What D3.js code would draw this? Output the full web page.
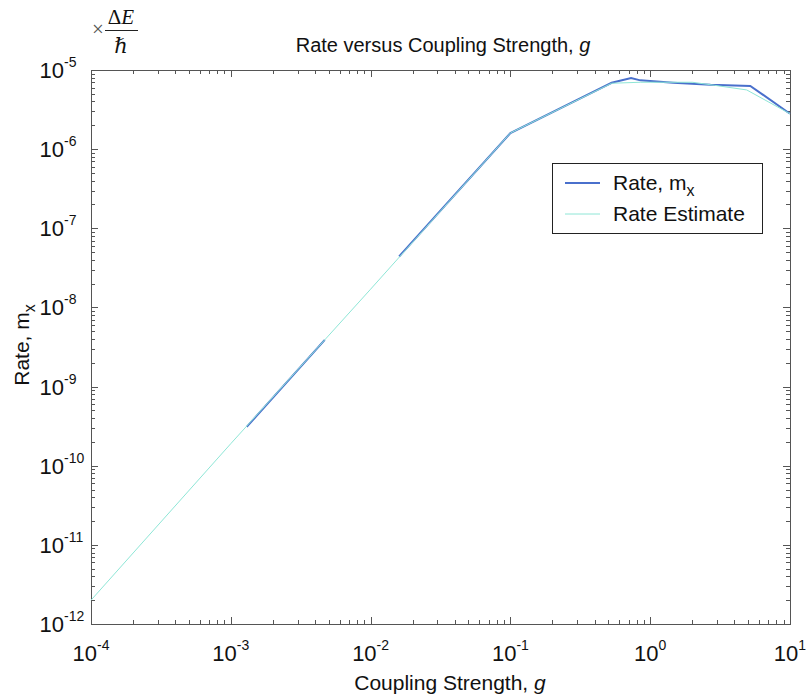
<!DOCTYPE html>
<html>
<head>
<meta charset="utf-8">
<script src="https://cdn.jsdelivr.net/npm/d3@7"></script>
<style>
  body { margin: 0; background: #fff; }
  text { font-family: "Liberation Sans", Arial, sans-serif; fill: #111; }
</style>
</head>
<body>
<div id="chart"></div>
<script>
// values
var rateG    = [1.3e-3, 4.7e-3, null, 0.016, 0.1, 0.53, 0.73, 0.85, 1.46, 2.7, 5.2, 10];
var rateMx   = [3.1e-10, 3.9e-9, null, 4.4e-8, 1.6e-6, 6.9e-6, 7.9e-6, 7.4e-6, 6.9e-6, 6.5e-6, 6.3e-6, 2.8e-6];
var estG     = [1e-4, 1e-3, 1e-2, 0.1, 0.53, 0.85, 2.0, 2.9, 4.9, 10];
var estRate  = [2e-12, 1.9e-10, 1.7e-8, 1.6e-6, 6.8e-6, 7.0e-6, 7.0e-6, 6.4e-6, 5.6e-6, 2.8e-6];
var xExps = [-4, -3, -2, -1, 0, 1];
var yExps = [-12, -11, -10, -9, -8, -7, -6, -5];

var width = 808, height = 700;
var pLeft = 91, pRight = 790, pTop = 70, pBottom = 624;

var svg = d3.select("#chart").append("svg")
  .attr("width", width).attr("height", height);

var x = d3.scaleLog().domain([1e-4, 10]).range([pLeft, pRight]);
var y = d3.scaleLog().domain([1e-12, 1e-5]).range([pBottom, pTop]);

// frame
svg.append("rect")
  .attr("x", pLeft + 0.5).attr("y", pTop + 0.5)
  .attr("width", pRight - pLeft).attr("height", pBottom - pTop)
  .attr("fill", "none").attr("stroke", "#555").attr("stroke-width", 1);

// ticks, inside, on all four sides
var ticks = svg.append("g").attr("stroke", "#555").attr("stroke-width", 1);
function isMajor(v) { return Math.abs(Math.log10(v) - Math.round(Math.log10(v))) < 1e-6; }

x.ticks().forEach(function(v) {
  var len = isMajor(v) ? 7 : 4, px = Math.round(x(v)) + 0.5;
  ticks.append("line").attr("x1", px).attr("x2", px).attr("y1", pBottom).attr("y2", pBottom - len);
  ticks.append("line").attr("x1", px).attr("x2", px).attr("y1", pTop).attr("y2", pTop + len);
});
y.ticks().forEach(function(v) {
  var len = isMajor(v) ? 7 : 4, py = Math.round(y(v)) + 0.5;
  ticks.append("line").attr("x1", pLeft).attr("x2", pLeft + len).attr("y1", py).attr("y2", py);
  ticks.append("line").attr("x1", pRight).attr("x2", pRight - len).attr("y1", py).attr("y2", py);
});

// x tick labels
xExps.forEach(function(e) {
  var t = svg.append("text")
    .attr("x", x(Math.pow(10, e))).attr("y", 661)
    .attr("text-anchor", "middle").attr("font-size", 22);
  t.append("tspan").text("10");
  t.append("tspan").attr("font-size", 14).attr("dy", -11).text(e);
});

// y tick labels
yExps.forEach(function(e) {
  var py = y(Math.pow(10, e));
  svg.append("text").attr("x", 64).attr("y", py + 8)
    .attr("text-anchor", "end").attr("font-size", 22).text("10");
  svg.append("text").attr("x", 64).attr("y", py - 3)
    .attr("font-size", 14).text(e);
});

// lines
var line = d3.line()
  .defined(function(d) { return d[0] != null; })
  .x(function(d) { return x(d[0]); })
  .y(function(d) { return y(d[1]); });

svg.append("path")
  .datum(rateG.map(function(g, i) { return [g, rateMx[i]]; }))
  .attr("d", line).attr("fill", "none")
  .attr("stroke", "#4a70cc").attr("stroke-width", 2);

svg.append("path")
  .datum(estG.map(function(g, i) { return [g, estRate[i]]; }))
  .attr("d", line).attr("fill", "none")
  .attr("stroke", "#8ee6d6").attr("stroke-width", 1);

// title and axis labels
var title = svg.append("text").attr("x", 443).attr("y", 52)
  .attr("text-anchor", "middle").attr("font-size", 20);
title.append("tspan").text("Rate versus Coupling Strength, ");
title.append("tspan").attr("font-style", "italic").text("g");

var xl = svg.append("text").attr("x", 450).attr("y", 690)
  .attr("text-anchor", "middle").attr("font-size", 21);
xl.append("tspan").text("Coupling Strength, ");
xl.append("tspan").attr("font-style", "italic").text("g");

var yl = svg.append("text")
  .attr("transform", "translate(29,345) rotate(-90)")
  .attr("text-anchor", "middle").attr("font-size", 21);
yl.append("tspan").text("Rate, m");
yl.append("tspan").attr("font-size", 16).attr("dy", 6).text("x");

// unit annotation: x dE / hbar
var serif = "'Liberation Serif', 'DejaVu Serif', serif";
svg.append("text").attr("x", 92).attr("y", 36)
  .attr("font-size", 21).style("font-family", serif).style("fill", "#555").text("\u00d7");
var de = svg.append("text").attr("x", 121).attr("y", 24)
  .attr("text-anchor", "middle").attr("font-size", 21).style("font-family", serif);
de.append("tspan").text("\u0394");
de.append("tspan").attr("font-style", "italic").text("E");
svg.append("line").attr("x1", 105).attr("x2", 138).attr("y1", 30.5).attr("y2", 30.5)
  .attr("stroke", "#222").attr("stroke-width", 1);
svg.append("text").attr("x", 121).attr("y", 53)
  .attr("text-anchor", "middle").attr("font-size", 21)
  .attr("font-style", "italic").style("font-family", serif).text("\u210f");

// legend
var lg = svg.append("g");
lg.append("rect").attr("x", 552.5).attr("y", 163.5).attr("width", 210).attr("height", 70)
  .attr("fill", "#fff").attr("stroke", "#222").attr("stroke-width", 1);
lg.append("line").attr("x1", 565).attr("x2", 600).attr("y1", 183).attr("y2", 183)
  .attr("stroke", "#4a70cc").attr("stroke-width", 2);
lg.append("line").attr("x1", 565).attr("x2", 600).attr("y1", 214).attr("y2", 214)
  .attr("stroke", "#8ee6d6").attr("stroke-width", 1);
var l1 = lg.append("text").attr("x", 613).attr("y", 190).attr("font-size", 21);
l1.append("tspan").text("Rate, m");
l1.append("tspan").attr("font-size", 16).attr("dy", 6).text("x");
lg.append("text").attr("x", 613).attr("y", 221).attr("font-size", 21).text("Rate Estimate");
</script>
</body>
</html>
